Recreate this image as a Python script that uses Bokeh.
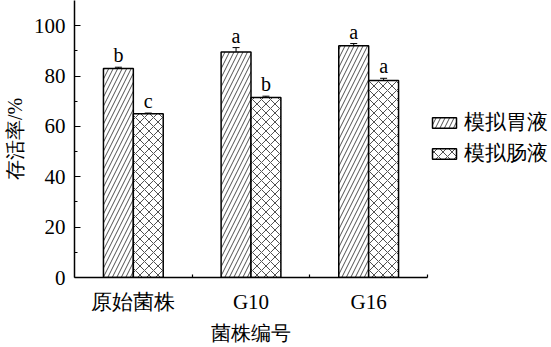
from bokeh.plotting import figure
from bokeh.models import (ColumnDataSource, FixedTicker, Range1d, Legend, LegendItem,
                          Whisker, TeeHead)
from bokeh.core.properties import value
from bokeh.embed import file_html
from bokeh.resources import INLINE

strains = ["原始菌株", "G10", "G16"]
series = ["模拟胃液", "模拟肠液"]
gastric = [83.0, 89.5, 92.0]
gastric_err = [0.5, 1.8, 0.9]
gastric_sig = ["b", "a", "a"]
intestinal = [65.0, 71.5, 78.2]
intestinal_err = [0.3, 0.5, 0.9]
intestinal_sig = ["c", "b", "a"]
y_ticks = [0, 20, 40, 60, 80, 100]
y_minor = [10, 30, 50, 70, 90]

FONT = "Liberation Serif"
BW = 0.254

p = figure(frame_width=353, frame_height=277, min_border_left=73, min_border_right=2,
           min_border_top=0, min_border_bottom=70, output_backend="svg",
           toolbar_location=None, x_range=Range1d(0, 3), y_range=Range1d(0, 110))
p.outline_line_color = None
p.xgrid.visible = False
p.ygrid.visible = False
p.background_fill_color = "white"
p.border_fill_color = "white"

centers = [i + 0.5 for i in range(len(strains))]
xg = [c - BW / 2 for c in centers]
xi = [c + BW / 2 for c in centers]

src_g = ColumnDataSource(dict(x=xg, top=gastric, up=[v + e for v, e in zip(gastric, gastric_err)],
                              lo=[v - e for v, e in zip(gastric, gastric_err)], sig=gastric_sig))
src_i = ColumnDataSource(dict(x=xi, top=intestinal, up=[v + e for v, e in zip(intestinal, intestinal_err)],
                              lo=[v - e for v, e in zip(intestinal, intestinal_err)], sig=intestinal_sig))

rg = p.vbar(x="x", top="top", bottom=0, width=BW, source=src_g, fill_color="white",
            line_color="black", line_width=1.5, hatch_pattern="/", hatch_scale=9,
            hatch_color="#222222", hatch_weight=0.8)
ri = p.vbar(x="x", top="top", bottom=0, width=BW, source=src_i, fill_color="white",
            line_color="black", line_width=1.5, hatch_pattern="x", hatch_scale=9,
            hatch_color="#222222", hatch_weight=0.8)

for s in (src_g, src_i):
    w = Whisker(base="x", upper="up", lower="lo", source=s, line_color="black", line_width=1,
                upper_head=TeeHead(size=7, line_width=1), lower_head=TeeHead(size=7, line_width=1))
    p.add_layout(w)
    p.text(x="x", y="up", text="sig", source=s, text_align="center", text_baseline="bottom",
           text_font=value(FONT), text_font_size="20px", y_offset=-1, text_color="black")

# axes
xa = p.xaxis[0]
xa.ticker = FixedTicker(ticks=centers, minor_ticks=[1, 2, 3])
xa.major_label_overrides = {c: s for c, s in zip(centers, strains)}
xa.major_tick_in = 0
xa.major_tick_out = 0
xa.minor_tick_in = 3
xa.minor_tick_out = 0
xa.axis_line_width = 1.5
xa.axis_line_color = "black"
xa.minor_tick_line_color = "black"
xa.minor_tick_line_width = 1.2
xa.major_label_text_font = FONT
xa.major_label_text_font_size = "21px"
xa.major_label_text_color = "black"
xa.major_label_standoff = 12
xa.axis_label = "菌株编号"
xa.axis_label_text_font = FONT
xa.axis_label_text_font_size = "20px"
xa.axis_label_text_font_style = "normal"
xa.axis_label_text_color = "black"
xa.axis_label_standoff = 5

ya = p.yaxis[0]
ya.ticker = FixedTicker(ticks=y_ticks, minor_ticks=y_minor)
ya.major_tick_in = 6
ya.major_tick_out = 0
ya.minor_tick_in = 3
ya.minor_tick_out = 0
ya.axis_line_width = 1.5
ya.axis_line_color = "black"
ya.major_tick_line_color = "black"
ya.minor_tick_line_color = "black"
ya.major_tick_line_width = 1.2
ya.minor_tick_line_width = 1.2
ya.major_label_text_font = FONT
ya.major_label_text_font_size = "21px"
ya.major_label_text_color = "black"
ya.major_label_standoff = 9
ya.axis_label = "存活率/%"
ya.axis_label_text_font = FONT
ya.axis_label_text_font_size = "20px"
ya.axis_label_text_font_style = "normal"
ya.axis_label_text_color = "black"
ya.axis_label_standoff = 5

legend = Legend(items=[LegendItem(label=series[0], renderers=[rg]),
                       LegendItem(label=series[1], renderers=[ri])],
                location=(2, 110), orientation="vertical", margin=0, padding=0,
                border_line_color=None, background_fill_alpha=0,
                glyph_width=30, glyph_height=13, label_height=24, spacing=3,
                label_standoff=5, label_text_font=FONT, label_text_font_size="21px",
                label_text_color="black")
p.add_layout(legend, "right")

open("out.html", "w").write(file_html(p, INLINE))
